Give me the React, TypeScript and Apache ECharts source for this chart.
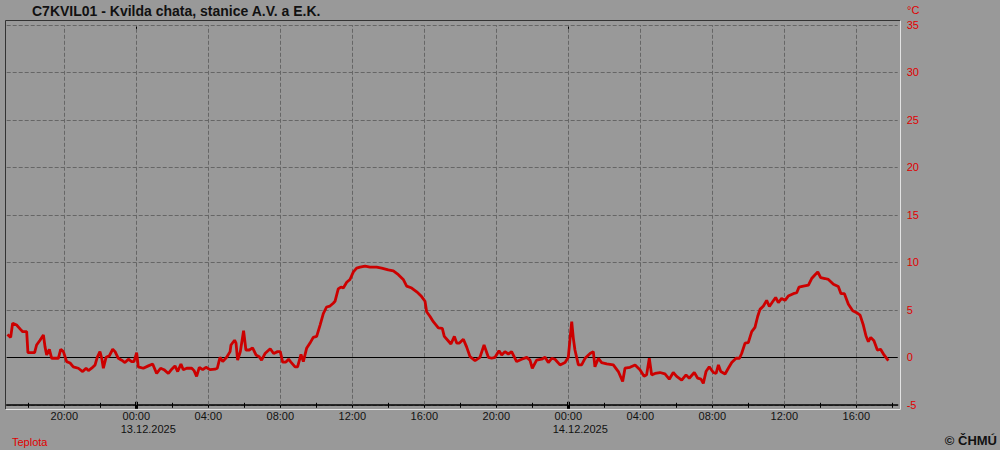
import React, { useEffect, useRef } from "react";
import * as echarts from "echarts";

// hours since 12.12.2025 00:00
const hours = [
  16.84, 17.02, 17.13, 17.35, 17.54, 17.69, 17.91, 17.98, 18.35, 18.46, 18.65, 18.84, 18.93, 19.02, 19.17, 19.3,
  19.67, 19.8, 19.95, 20.13, 20.32, 20.5, 20.78, 21.02, 21.21, 21.34, 21.52, 21.71, 21.83, 21.98, 22.08, 22.17,
  22.32, 22.5, 22.69, 22.82, 23.0, 23.19, 23.37, 23.56, 23.74, 23.87, 24.02, 24.11, 24.39, 24.67, 24.91, 25.13,
  25.35, 25.54, 25.78, 25.97, 26.15, 26.3, 26.48, 26.61, 26.8, 27.08, 27.21, 27.35, 27.5, 27.69, 27.87, 28.09,
  28.37, 28.5, 28.65, 28.8, 29.02, 29.21, 29.26, 29.46, 29.54, 29.63, 29.78, 29.96, 30.09, 30.28, 30.46, 30.65,
  30.83, 30.96, 31.15, 31.44, 31.63, 31.85, 32.0, 32.13, 32.31, 32.46, 32.59, 32.82, 32.96, 33.15, 33.28, 33.46,
  33.65, 33.83, 34.02, 34.21, 34.39, 34.57, 34.76, 34.94, 35.04, 35.22, 35.37, 35.5, 35.69, 35.87, 36.06, 36.24,
  36.43, 36.71, 36.98, 37.35, 37.63, 38.0, 38.28, 38.56, 38.83, 39.02, 39.3, 39.58, 39.85, 40.04, 40.13, 40.32,
  40.5, 40.78, 41.0, 41.11, 41.3, 41.48, 41.67, 41.8, 41.95, 42.17, 42.35, 42.54, 42.82, 43.09, 43.32, 43.56,
  43.74, 43.93, 44.15, 44.3, 44.48, 44.67, 44.85, 45.13, 45.41, 45.69, 45.87, 46.0, 46.24, 46.52, 46.71, 46.89,
  47.08, 47.26, 47.54, 47.82, 48.0, 48.09, 48.19, 48.28, 48.37, 48.56, 48.74, 48.93, 49.21, 49.39, 49.48, 49.67,
  49.85, 50.13, 50.5, 50.78, 51.02, 51.15, 51.43, 51.71, 51.98, 52.21, 52.35, 52.5, 52.63, 52.82, 53.09, 53.37,
  53.61, 53.83, 54.02, 54.3, 54.54, 54.72, 55.0, 55.19, 55.37, 55.5, 55.65, 55.83, 56.06, 56.21, 56.34, 56.47,
  56.71, 56.89, 57.08, 57.32, 57.51, 57.63, 57.82, 58.0, 58.19, 58.37, 58.52, 58.65, 58.84, 59.02, 59.17, 59.35,
  59.52, 59.67, 59.85, 60.04, 60.22, 60.5, 60.69, 60.82, 61.06, 61.34, 61.52, 61.71, 61.86, 62.02, 62.26, 62.45,
  62.73, 63.0, 63.15, 63.34, 63.56, 63.8, 64.02, 64.21, 64.39, 64.54, 64.67, 64.8, 64.98, 65.17, 65.35, 65.54,
  65.78,
];

const temps = [
  2.4, 2.1, 3.6, 3.4, 3.0, 2.7, 2.7, 0.5, 0.5, 1.3, 1.8, 2.35, 1.1, 0.25, 0.85, -0.1,
  -0.1, 0.85, 0.6, -0.45, -0.6, -1.0, -1.15, -1.5, -1.15, -1.4, -1.15, -0.8, 0.0, 0.6, -0.1, -1.15,
  0.0, 0.15, 0.85, 0.6, -0.1, -0.3, -0.55, -0.2, -0.45, -0.45, 0.5, -1.0, -1.15, -0.9, -0.7, -1.7,
  -1.15, -1.3, -1.7, -1.25, -0.9, -1.5, -0.7, -1.3, -1.15, -1.15, -1.4, -2.0, -1.05, -1.3, -1.05, -1.3,
  -1.25, -1.15, 0.0, -0.45, 0.0, 0.6, 1.3, 1.8, 1.5, -0.3, 0.6, 2.8, 0.77, 0.77, 1.0, 0.25,
  0.07, -0.3, 0.4, 0.9, 0.4, 0.6, 0.6, -0.5, -0.5, -0.2, -0.5, -1.0, -1.0, 0.3, -0.45, 0.95,
  1.5, 2.1, 2.2, 3.4, 4.6, 5.3, 5.4, 5.7, 5.9, 7.2, 7.4, 7.3, 7.9, 8.2, 9.0, 9.4,
  9.5, 9.6, 9.5, 9.5, 9.4, 9.2, 9.1, 8.7, 8.2, 7.5, 7.3, 6.9, 6.4, 5.9, 4.8, 4.3,
  3.75, 3.1, 3.05, 2.2, 1.8, 1.4, 2.2, 1.5, 1.5, 1.9, 1.1, 0.07, -0.35, 0.0, 1.3, 0.0,
  -0.1, 0.0, 0.7, 0.25, 0.6, 0.35, 0.6, -0.45, -0.2, 0.0, -0.3, -1.15, -0.3, -0.2, 0.0, -0.55,
  -0.1, -0.2, -0.8, -0.55, 0.0, 1.8, 3.75, 2.0, 0.77, -0.8, -0.8, -0.1, 0.4, 0.6, -1.0, -0.1,
  -0.55, -0.7, -0.8, -1.5, -2.55, -1.15, -1.05, -0.8, -1.3, -2.0, -1.85, -0.1, -1.85, -1.7, -1.6, -1.75,
  -2.3, -1.6, -2.0, -2.4, -1.85, -2.2, -1.6, -2.2, -2.3, -2.75, -1.5, -1.0, -1.6, -1.7, -0.8, -1.5,
  -1.75, -1.15, -0.55, -0.1, -0.1, 0.4, 1.5, 1.55, 2.7, 3.15, 4.3, 5.05, 5.4, 6.0, 5.35, 5.85,
  6.3, 5.75, 6.2, 6.0, 6.45, 6.7, 6.8, 7.4, 7.5, 7.6, 8.3, 8.7, 9.0, 8.4, 8.3, 8.2,
  7.7, 7.45, 6.7, 6.7, 5.6, 4.9, 4.7, 4.45, 3.4, 2.25, 1.65, 2.1, 1.75, 0.77, 0.85, 0.25,
  -0.35,
];

const xMin = 16.8;
const xMax = 66.3;
const labelHours = [20, 24, 28, 32, 36, 40, 44, 48, 52, 56, 60, 64];
const tickHours = [18, 20, 22, 24, 26, 28, 30, 32, 34, 36, 38, 40, 42, 44, 46, 48, 50, 52, 54, 56, 58, 60, 62, 64, 66];
const midnightHours = [24, 48];
const midnightDates: Record<number, string> = { 24: "13.12.2025", 48: "14.12.2025" };
const yTicks = { min: -5, max: 35, step: 5 };

const title = "C7KVIL01 - Kvilda chata, stanice A.V. a E.K.";
const unit = "°C";
const seriesName = "Teplota";
const copyright = "© ČHMÚ";

const FONT = "'Liberation Sans', Arial, sans-serif";

export default function App() {
  const ref = useRef<HTMLDivElement>(null);
  useEffect(() => {
    if (!ref.current) return;
    const chart = echarts.init(ref.current, undefined, { renderer: "svg" });
    const data = hours.map((h, i) => [h, temps[i]]);
    const gridLeft = 6.7;
    const gridRight = 102.3;
    const gridTop = 25;
    const gridBottom = 45.2;

    const baseX = {
      type: "value" as const,
      min: xMin,
      max: xMax,
      splitLine: { show: false },
      axisLabel: { show: false },
      axisLine: { show: false, onZero: false },
      axisTick: { show: false },
    };

    chart.setOption({
      animation: false,
      backgroundColor: "#999999",
      grid: {
        left: gridLeft,
        right: gridRight,
        top: gridTop,
        bottom: gridBottom,
        outerBoundsMode: "none",
      },
      xAxis: [
        {
          ...baseX,
          position: "bottom",
          axisLine: { show: true, onZero: false, lineStyle: { color: "#000", width: 1.5 } },
          axisLabel: {
            show: true,
            customValues: labelHours,
            margin: 5,
            color: "#111",
            fontFamily: FONT,
            fontSize: 11,
            lineHeight: 13,
            formatter: (v: number) => {
              const hh = Math.round(v) % 24;
              const t = (hh < 10 ? "0" : "") + hh + ":00";
              const d = midnightDates[Math.round(v)];
              return d ? "{t|" + t + "}\n{d|" + d + "}" : "{t|" + t + "}";
            },
            rich: {
              t: { fontFamily: FONT, fontSize: 11, lineHeight: 13, color: "#111" },
              d: { fontFamily: FONT, fontSize: 11, lineHeight: 13, color: "#111", width: 79, align: "right" },
            },
          },
        },
        {
          ...baseX,
          position: "bottom",
          offset: -2,
          axisTick: { show: true, customValues: tickHours, length: 5, lineStyle: { color: "#000", width: 1 } },
        },
        {
          ...baseX,
          position: "bottom",
          offset: -3,
          axisTick: { show: true, customValues: midnightHours, length: 7, lineStyle: { color: "#000", width: 3 } },
        },
        {
          ...baseX,
          position: "top",
          axisTick: { show: true, customValues: midnightHours, inside: true, length: 5, lineStyle: { color: "#000", width: 1 } },
        },
      ],
      yAxis: {
        type: "value",
        position: "right",
        min: yTicks.min,
        max: yTicks.max,
        interval: yTicks.step,
        axisLine: { show: false, onZero: false },
        axisTick: { show: false },
        axisLabel: { color: "#e00000", fontFamily: FONT, fontSize: 11, margin: 9, align: "left" },
        splitLine: { show: true, lineStyle: { color: "#666666", type: [4, 2], width: 1 } },
      },
      series: [
        {
          type: "line",
          data: [],
          z: 1,
          silent: true,
          markLine: {
            silent: true,
            symbol: "none",
            label: { show: false },
            animation: false,
            data: [
              ...labelHours.map((h) => ({ xAxis: h, lineStyle: { color: "#666666", type: [4, 2], width: 1 } })),
              { yAxis: 0, lineStyle: { color: "#000000", type: "solid", width: 1 } },
            ],
          },
        },
        {
          name: seriesName,
          type: "line",
          data,
          z: 5,
          showSymbol: false,
          symbol: "none",
          lineStyle: { color: "#cc0000", width: 2.8 },
          silent: true,
        },
      ],
      graphic: [
        { type: "line", shape: { x1: 5.5, y1: 20.5, x2: 900.5, y2: 20.5 }, style: { stroke: "#333333", lineWidth: 1 } },
        { type: "line", shape: { x1: 5.5, y1: 20.5, x2: 5.5, y2: 409.5 }, style: { stroke: "#333333", lineWidth: 1 } },
        { type: "line", shape: { x1: 900.5, y1: 20.5, x2: 900.5, y2: 409.5 }, style: { stroke: "#e2e2e2", lineWidth: 1 } },
        { type: "line", shape: { x1: 5.5, y1: 409.5, x2: 900.5, y2: 409.5 }, style: { stroke: "#e2e2e2", lineWidth: 1 } },
        {
          type: "text",
          x: 32,
          y: 11,
          style: { text: title, font: "bold 14px " + FONT, fill: "#111111", textVerticalAlign: "middle" },
        },
        {
          type: "text",
          x: 907,
          y: 10,
          style: { text: unit, font: "11px " + FONT, fill: "#e00000", textVerticalAlign: "middle" },
        },
        {
          type: "text",
          x: 12,
          y: 441.5,
          style: { text: seriesName, font: "11px " + FONT, fill: "#e00000", textVerticalAlign: "middle" },
        },
        {
          type: "text",
          x: 997,
          y: 440,
          style: { text: copyright, font: "bold 13px " + FONT, fill: "#111111", textAlign: "right", textVerticalAlign: "middle" },
        },
      ],
    });
    return () => chart.dispose();
  }, []);
  return <div ref={ref} style={{ position: "absolute", left: 0, top: 0, width: 1000, height: 450 }} />;
}
